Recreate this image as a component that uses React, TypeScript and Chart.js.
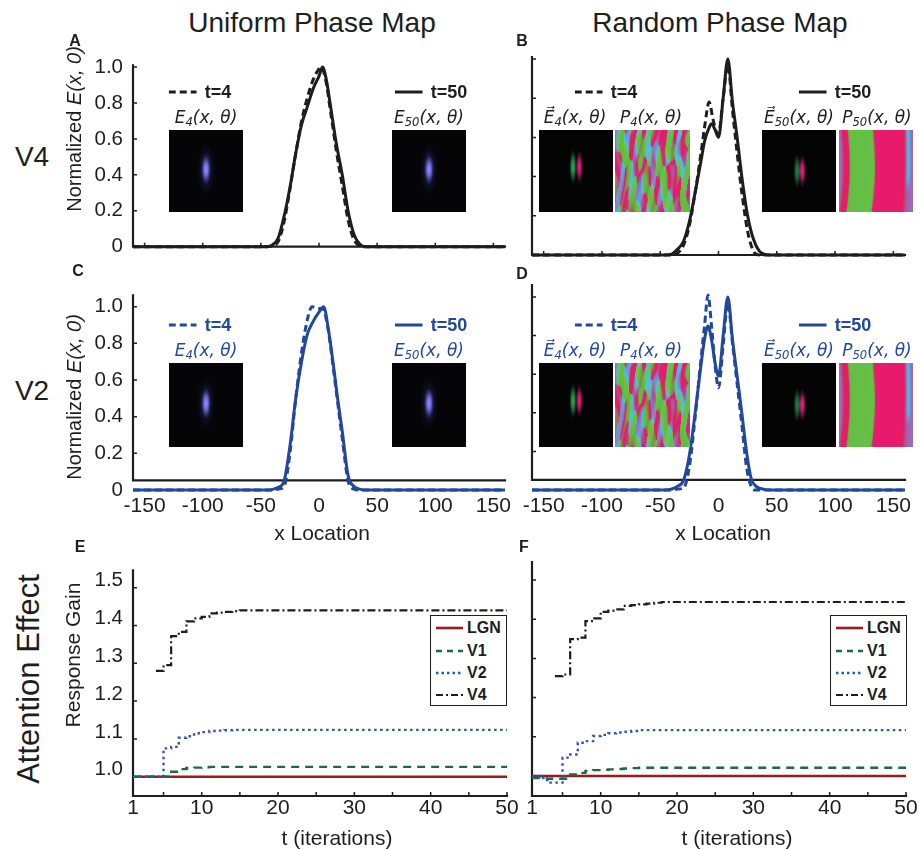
import React, { useEffect, useRef } from 'react';
import { Chart, registerables } from 'chart.js';

const FONT = '"Liberation Sans", Arial, Helvetica, sans-serif';
const SERIF_IT = '"DejaVu Sans", "Noto Sans", sans-serif';
const INK = '#1e1e1e';
const BLUE = '#22489c';
const RED = '#9a1b22';
const GREEN = '#1d6b38';
const DOTBLUE = '#2e55b0';

// ---------- Profile data (x location vs normalized E(x,0)) ----------
const A_t4_x = [-160, -45, -40, -35, -30, -25, -20, -15, -10, -5, 0, 2, 6, 10, 15, 20, 25, 30, 35, 40, 160];
const A_t4_y = [0, 0, 0.005, 0.03, 0.14, 0.32, 0.52, 0.7, 0.83, 0.93, 0.99, 1.0, 0.92, 0.75, 0.53, 0.34, 0.15, 0.04, 0.005, 0, 0];
const A_t50_x = [-160, -45, -40, -35, -30, -25, -20, -15, -10, -5, 0, 3, 6, 10, 15, 20, 25, 30, 35, 40, 160];
const A_t50_y = [0, 0, 0.01, 0.05, 0.17, 0.33, 0.52, 0.68, 0.78, 0.88, 0.95, 1.0, 0.94, 0.78, 0.57, 0.4, 0.2, 0.07, 0.015, 0, 0];

const B_t4_x = [-160, -40, -35, -30, -25, -20, -15, -12, -8, -5, -2, 0, 4, 8, 12, 16, 20, 25, 30, 35, 160];
const B_t4_y = [0, 0, 0.01, 0.05, 0.15, 0.32, 0.52, 0.65, 0.78, 0.7, 0.63, 0.62, 0.8, 0.97, 0.74, 0.52, 0.32, 0.12, 0.02, 0, 0];
const B_t50_x = [-160, -45, -40, -35, -30, -25, -20, -15, -12, -8, -6, -3, 0, 4, 8, 12, 16, 20, 25, 30, 35, 40, 45, 160];
const B_t50_y = [0, 0, 0.005, 0.03, 0.07, 0.17, 0.32, 0.48, 0.58, 0.65, 0.67, 0.64, 0.6, 0.8, 1.0, 0.78, 0.6, 0.4, 0.2, 0.08, 0.02, 0.003, 0, 0];

const C_t4_x = [-160, -40, -35, -30, -25, -20, -15, -10, -6, 0, 3, 8, 12, 16, 20, 25, 30, 35, 160];
const C_t4_y = [0, 0, 0.005, 0.02, 0.2, 0.5, 0.75, 0.93, 1.0, 0.99, 0.99, 0.87, 0.68, 0.48, 0.28, 0.05, 0.005, 0, 0];
const C_t50_x = [-160, -45, -40, -35, -30, -25, -20, -15, -10, -5, 0, 4, 8, 12, 16, 20, 25, 30, 35, 40, 160];
const C_t50_y = [0, 0, 0.003, 0.015, 0.05, 0.24, 0.5, 0.7, 0.85, 0.92, 0.97, 1.0, 0.88, 0.7, 0.5, 0.32, 0.08, 0.02, 0.005, 0, 0];

const D_t4_x = [-160, -40, -35, -30, -25, -20, -16, -12, -9, -6, -3, 0, 4, 8, 12, 16, 20, 24, 28, 32, 160];
const D_t4_y = [0, 0, 0.005, 0.01, 0.12, 0.38, 0.62, 0.85, 1.01, 0.85, 0.65, 0.53, 0.75, 0.97, 0.76, 0.55, 0.34, 0.12, 0.02, 0, 0];
const D_t50_x = [-160, -45, -40, -35, -30, -25, -20, -16, -12, -9, -6, -3, 0, 4, 8, 12, 16, 20, 24, 28, 32, 36, 40, 45, 160];
const D_t50_y = [0, 0, 0.005, 0.02, 0.05, 0.18, 0.4, 0.6, 0.78, 0.85, 0.78, 0.66, 0.59, 0.8, 1.0, 0.78, 0.59, 0.4, 0.2, 0.06, 0.02, 0.008, 0.002, 0, 0];

const xLocTicks = [-150, -100, -50, 0, 50, 100, 150];
const profYTicks = [0, 0.2, 0.4, 0.6, 0.8, 1.0];

// ---------- Response gain data (t = 1..50) ----------
const iterations = [
  1, 2, 3, 4, 5, 6, 7, 8, 9, 10, 11, 12, 13, 14, 15, 16, 17, 18, 19, 20,
  21, 22, 23, 24, 25, 26, 27, 28, 29, 30, 31, 32, 33, 34, 35, 36, 37, 38, 39, 40,
  41, 42, 43, 44, 45, 46, 47, 48, 49, 50,
];
const E_LGN = [
  1.0, 1.0, 1.0, 1.0, 1.0, 1.0, 1.0, 1.0, 1.0, 1.0,
  1.0, 1.0, 1.0, 1.0, 1.0, 1.0, 1.0, 1.0, 1.0, 1.0,
  1.0, 1.0, 1.0, 1.0, 1.0, 1.0, 1.0, 1.0, 1.0, 1.0,
  1.0, 1.0, 1.0, 1.0, 1.0, 1.0, 1.0, 1.0, 1.0, 1.0,
  1.0, 1.0, 1.0, 1.0, 1.0, 1.0, 1.0, 1.0, 1.0, 1.0,
];
const E_V1 = [
  1.0, 1.0, 1.0, 1.0, 1.0, 1.013, 1.02, 1.023, 1.024, 1.025,
  1.026, 1.026, 1.026, 1.026, 1.026, 1.026, 1.026, 1.026, 1.026, 1.026,
  1.026, 1.026, 1.026, 1.026, 1.026, 1.026, 1.026, 1.026, 1.026, 1.026,
  1.026, 1.026, 1.026, 1.026, 1.026, 1.026, 1.026, 1.026, 1.026, 1.026,
  1.026, 1.026, 1.026, 1.026, 1.026, 1.026, 1.026, 1.026, 1.026, 1.026,
];
const E_V2 = [
  1.0, 1.0, 1.0, 1.0, 1.075, 1.079, 1.103, 1.107, 1.115, 1.118,
  1.121, 1.122, 1.123, 1.124, 1.124, 1.124, 1.124, 1.124, 1.124, 1.124,
  1.124, 1.124, 1.124, 1.124, 1.124, 1.124, 1.124, 1.124, 1.124, 1.124,
  1.124, 1.124, 1.124, 1.124, 1.124, 1.124, 1.124, 1.124, 1.124, 1.124,
  1.124, 1.124, 1.124, 1.124, 1.124, 1.124, 1.124, 1.124, 1.124, 1.124,
];
const E_V4 = [
  null, null, null, 1.28, 1.295, 1.372, 1.383, 1.411, 1.419, 1.423,
  1.432, 1.434, 1.436, 1.438, 1.44, 1.44, 1.44, 1.44, 1.44, 1.44,
  1.44, 1.44, 1.44, 1.44, 1.44, 1.44, 1.44, 1.44, 1.44, 1.44,
  1.44, 1.44, 1.44, 1.44, 1.44, 1.44, 1.44, 1.44, 1.44, 1.44,
  1.44, 1.44, 1.44, 1.44, 1.44, 1.44, 1.44, 1.44, 1.44, 1.44,
];
const F_LGN = [
  1.0, 1.0, 1.0, 1.0, 1.0, 1.0, 1.0, 1.0, 1.0, 1.0,
  1.0, 1.0, 1.0, 1.0, 1.0, 1.0, 1.0, 1.0, 1.0, 1.0,
  1.0, 1.0, 1.0, 1.0, 1.0, 1.0, 1.0, 1.0, 1.0, 1.0,
  1.0, 1.0, 1.0, 1.0, 1.0, 1.0, 1.0, 1.0, 1.0, 1.0,
  1.0, 1.0, 1.0, 1.0, 1.0, 1.0, 1.0, 1.0, 1.0, 1.0,
];
const F_V1 = [
  0.995, 0.994, 0.993, 0.993, 0.993, 1.004, 1.008, 1.013, 1.015, 1.016,
  1.017, 1.018, 1.019, 1.02, 1.021, 1.021, 1.021, 1.021, 1.021, 1.021,
  1.021, 1.021, 1.021, 1.021, 1.021, 1.021, 1.021, 1.021, 1.021, 1.021,
  1.021, 1.021, 1.021, 1.021, 1.021, 1.021, 1.021, 1.021, 1.021, 1.021,
  1.021, 1.021, 1.021, 1.021, 1.021, 1.021, 1.021, 1.021, 1.021, 1.021,
];
const F_V2 = [
  1.0, 0.995, 0.983, 0.983, 1.047, 1.055, 1.085, 1.089, 1.102, 1.105,
  1.109, 1.111, 1.113, 1.115, 1.117, 1.117, 1.117, 1.117, 1.117, 1.117,
  1.117, 1.117, 1.117, 1.117, 1.117, 1.117, 1.117, 1.117, 1.117, 1.117,
  1.117, 1.117, 1.117, 1.117, 1.117, 1.117, 1.117, 1.117, 1.117, 1.117,
  1.117, 1.117, 1.117, 1.117, 1.117, 1.117, 1.117, 1.117, 1.117, 1.117,
];
const F_V4 = [
  null, null, null, 1.255, 1.259, 1.349, 1.353, 1.395, 1.402, 1.419,
  1.422, 1.425, 1.434, 1.436, 1.438, 1.44, 1.442, 1.444, 1.444, 1.444,
  1.444, 1.444, 1.444, 1.444, 1.444, 1.444, 1.444, 1.444, 1.444, 1.444,
  1.444, 1.444, 1.444, 1.444, 1.444, 1.444, 1.444, 1.444, 1.444, 1.444,
  1.444, 1.444, 1.444, 1.444, 1.444, 1.444, 1.444, 1.444, 1.444, 1.444,
];
const iterTicks = [1, 10, 20, 30, 40, 50];
const iterMarks = [5, 10, 15, 20, 25, 30, 35, 40, 45, 50];
const gainTicks = [1.0, 1.1, 1.2, 1.3, 1.4, 1.5];
const legendNames = ['LGN', 'V1', 'V2', 'V4'];

// ---------- axis plugin (MATLAB-like axis lines with inner ticks) ----------
const axesPlugin = {
  id: 'mAxes',
  beforeDatasetsDraw(chart: any, _a: any, opts: any) {
    if (!opts || opts.xLineAt === undefined) return;
    const ctx = chart.ctx;
    const xs = chart.scales.x;
    const ys = chart.scales.y;
    const py = ys.getPixelForValue(opts.xLineAt);
    const px = xs.getPixelForValue(opts.yLineAt);
    ctx.save();
    ctx.strokeStyle = INK;
    ctx.lineWidth = 2.2;
    ctx.lineCap = 'square';
    ctx.beginPath();
    ctx.moveTo(xs.getPixelForValue(opts.xFrom), py);
    ctx.lineTo(xs.getPixelForValue(opts.xTo), py);
    ctx.moveTo(px, ys.getPixelForValue(opts.yFrom));
    ctx.lineTo(px, ys.getPixelForValue(opts.yTo));
    ctx.stroke();
    ctx.lineWidth = 1.5;
    ctx.lineCap = 'butt';
    ctx.beginPath();
    for (const v of opts.xMarks || []) {
      const x = xs.getPixelForValue(v);
      ctx.moveTo(x, py);
      ctx.lineTo(x, py - 4);
    }
    for (const v of opts.yMarks || []) {
      const y = ys.getPixelForValue(v);
      ctx.moveTo(px, y);
      ctx.lineTo(px + 4, y);
    }
    ctx.stroke();
    ctx.restore();
  },
};

Chart.register(...registerables, axesPlugin);

type Spec = {
  L: number; T: number; R: number; B: number;
  ml: number; mt: number; mr: number; mb: number;
  xMin: number; xMax: number; yMin: number; yMax: number;
  xTicks: number[]; yTicks: number[];
  xLabels: boolean; yLabels: boolean; xPad: number; yLabelOffset: number;
  yFmt: (v: number) => string;
  axes: any;
  datasets: any[];
};

const pts = (xs: number[], ys: (number | null)[]) => xs.map((x, i) => ({ x, y: ys[i] }));

const profFmt = (v: number) => (v === 0 ? '0' : v.toFixed(1));
const gainFmt = (v: number) => v.toFixed(1);

function profileSets(xs4: number[], ys4: number[], xs50: number[], ys50: number[], color: string) {
  const base = { pointRadius: 0, clip: 6, cubicInterpolationMode: 'monotone', borderJoinStyle: 'round' };
  return [
    { ...base, data: pts(xs50, ys50), borderColor: color, borderWidth: 3, borderDash: [], order: 2 },
    { ...base, data: pts(xs4, ys4), borderColor: color, borderWidth: 3, borderDash: [7, 4], order: 1 },
  ];
}

function gainSets(lgn: number[], v1: number[], v2: number[], v4: (number | null)[]) {
  const base = { pointRadius: 0, stepped: true, borderCapStyle: 'butt', clip: 4 };
  return [
    { ...base, data: pts(iterations, lgn), borderColor: RED, borderWidth: 2.6, order: 4 },
    { ...base, data: pts(iterations, v1), borderColor: GREEN, borderWidth: 2.4, borderDash: [8, 6], order: 2 },
    { ...base, data: pts(iterations, v2), borderColor: DOTBLUE, borderWidth: 2.4, borderDash: [2.5, 3.5], order: 1 },
    { ...base, data: pts(iterations, v4), borderColor: INK, borderWidth: 2.2, borderDash: [8, 3, 2, 3], order: 3 },
  ];
}

const profAxesAB = { xLineAt: 0, xFrom: -160, xTo: 160, yLineAt: -160, yFrom: 0, yTo: 1.01, xMarks: xLocTicks, yMarks: [0.2, 0.4, 0.6, 0.8, 1.0] };
const profAxesCD = { xLineAt: 0.052, xFrom: -160, xTo: 160, yLineAt: -160, yFrom: 0.052, yTo: 1.062, xMarks: [], yMarks: [0.2, 0.4, 0.6, 0.8, 1.0] };
const gainAxes = { xLineAt: 0.949, xFrom: 1, xTo: 50, yLineAt: 1, yFrom: 0.949, yTo: 1.546, xMarks: iterMarks, yMarks: gainTicks };

const specs: Spec[] = [
  {
    L: 133, T: 57, R: 505, B: 255, ml: 73, mt: 14, mr: 10, mb: 14,
    xMin: -160, xMax: 160, yMin: 0, yMax: 1.01, xTicks: xLocTicks, yTicks: profYTicks,
    xLabels: false, yLabels: true, xPad: 4, yLabelOffset: 0, yFmt: profFmt, axes: profAxesAB,
    datasets: profileSets(A_t4_x, A_t4_y, A_t50_x, A_t50_y, INK),
  },
  {
    L: 532, T: 57, R: 905, B: 255, ml: 16, mt: 14, mr: 10, mb: 14,
    xMin: -160, xMax: 160, yMin: 0, yMax: 1.01, xTicks: xLocTicks, yTicks: profYTicks,
    xLabels: false, yLabels: false, xPad: 4, yLabelOffset: 0, yFmt: profFmt, axes: profAxesAB,
    datasets: profileSets(B_t4_x, B_t4_y, B_t50_x, B_t50_y, INK),
  },
  {
    L: 133, T: 285, R: 505, B: 490, ml: 73, mt: 12, mr: 22, mb: 32,
    xMin: -160, xMax: 160, yMin: 0, yMax: 1.062, xTicks: xLocTicks, yTicks: profYTicks,
    xLabels: true, yLabels: true, xPad: 4, yLabelOffset: 0, yFmt: profFmt, axes: profAxesCD,
    datasets: profileSets(C_t4_x, C_t4_y, C_t50_x, C_t50_y, BLUE),
  },
  {
    L: 532, T: 285, R: 905, B: 490, ml: 16, mt: 12, mr: 14, mb: 32,
    xMin: -160, xMax: 160, yMin: 0, yMax: 1.062, xTicks: xLocTicks, yTicks: profYTicks,
    xLabels: true, yLabels: false, xPad: 4, yLabelOffset: 0, yFmt: profFmt, axes: profAxesCD,
    datasets: profileSets(D_t4_x, D_t4_y, D_t50_x, D_t50_y, BLUE),
  },
  {
    L: 133, T: 562, R: 507, B: 796, ml: 73, mt: 14, mr: 20, mb: 30,
    xMin: 1, xMax: 50, yMin: 0.949, yMax: 1.546, xTicks: iterTicks, yTicks: gainTicks,
    xLabels: true, yLabels: true, xPad: 0, yLabelOffset: -7, yFmt: gainFmt, axes: gainAxes,
    datasets: gainSets(E_LGN, E_V1, E_V2, E_V4),
  },
  {
    L: 532, T: 562, R: 906, B: 796, ml: 16, mt: 14, mr: 14, mb: 30,
    xMin: 1, xMax: 50, yMin: 0.949, yMax: 1.546, xTicks: iterTicks, yTicks: gainTicks,
    xLabels: true, yLabels: false, xPad: 0, yLabelOffset: -7, yFmt: gainFmt, axes: gainAxes,
    datasets: gainSets(F_LGN, F_V1, F_V2, F_V4),
  },
];

function buildConfig(s: Spec): any {
  return {
    type: 'line',
    data: { datasets: s.datasets },
    options: {
      animation: false,
      responsive: false,
      devicePixelRatio: 1,
      events: [],
      layout: { padding: { left: 0, top: s.mt, right: s.mr, bottom: 0 } },
      plugins: { legend: { display: false }, tooltip: { enabled: false }, mAxes: s.axes },
      elements: { point: { radius: 0 }, line: { tension: 0 } },
      scales: {
        x: {
          type: 'linear', min: s.xMin, max: s.xMax,
          grid: { display: false, drawTicks: false }, border: { display: false },
          ticks: {
            display: s.xLabels, font: { family: FONT, size: 21 }, color: INK, padding: s.xPad,
            maxRotation: 0, autoSkip: false, callback: (v: number) => String(v),
          },
          afterBuildTicks: (ax: any) => { ax.ticks = s.xTicks.map((v) => ({ value: v })); },
          afterFit: (ax: any) => { ax.height = s.mb; },
        },
        y: {
          type: 'linear', min: s.yMin, max: s.yMax,
          grid: { display: false, drawTicks: false }, border: { display: false },
          ticks: {
            display: s.yLabels, font: { family: FONT, size: 20.5 }, color: INK, padding: 10,
            labelOffset: s.yLabelOffset, autoSkip: false, callback: (v: number) => s.yFmt(v),
          },
          afterBuildTicks: (ax: any) => { ax.ticks = s.yTicks.map((v) => ({ value: v })); },
          afterFit: (ax: any) => { ax.width = s.ml; },
        },
      },
    },
  };
}

function Panel({ s }: { s: Spec }) {
  const ref = useRef<HTMLCanvasElement>(null);
  const w = s.R - s.L + s.ml + s.mr;
  const h = s.B - s.T + s.mt + s.mb;
  useEffect(() => {
    const chart = new Chart(ref.current as HTMLCanvasElement, buildConfig(s));
    return () => chart.destroy();
  }, []);
  return (
    <canvas
      ref={ref}
      width={w}
      height={h}
      style={{ position: 'absolute', left: s.L - s.ml, top: s.T - s.mt, width: w, height: h }}
    />
  );
}

// ---------- inset pictures ----------
const PAL: [number, number[]][] = [
  [0.0, [234, 24, 112]], [0.16, [226, 32, 92]], [0.3, [152, 108, 184]], [0.44, [78, 190, 232]],
  [0.56, [108, 196, 74]], [0.84, [92, 186, 62]], [1.0, [234, 24, 112]],
];
function palette(p: number): number[] {
  p = ((p % 1) + 1) % 1;
  for (let i = 0; i < PAL.length - 1; i++) {
    const [a, ca] = PAL[i];
    const [b, cb] = PAL[i + 1];
    if (p >= a && p <= b) {
      const t = (p - a) / (b - a);
      return [0, 1, 2].map((k) => ca[k] + (cb[k] - ca[k]) * t);
    }
  }
  return PAL[0][1];
}
function smooth(a: number, b: number, x: number) {
  const t = Math.min(1, Math.max(0, (x - a) / (b - a)));
  return t * t * (3 - 2 * t);
}
function interp(us: number[], ps: number[], u: number) {
  if (u <= us[0]) return ps[0];
  for (let i = 0; i < us.length - 1; i++) {
    if (u <= us[i + 1]) return ps[i] + (ps[i + 1] - ps[i]) * (u - us[i]) / (us[i + 1] - us[i]);
  }
  return ps[ps.length - 1];
}

function drawBlob(ctx: CanvasRenderingContext2D, cx: number, cy: number, r: number, sy: number, rgb: string, a: number) {
  ctx.save();
  ctx.translate(cx, cy);
  ctx.scale(1, sy);
  const g = ctx.createRadialGradient(0, 0, 0, 0, 0, r);
  g.addColorStop(0, `rgba(${rgb},${a})`);
  g.addColorStop(0.4, `rgba(${rgb},${a * 0.7})`);
  g.addColorStop(0.75, `rgba(${rgb},${a * 0.2})`);
  g.addColorStop(1, `rgba(${rgb},0)`);
  ctx.fillStyle = g;
  ctx.beginPath();
  ctx.arc(0, 0, r, 0, Math.PI * 2);
  ctx.fill();
  ctx.restore();
}

function drawInset(ctx: CanvasRenderingContext2D, w: number, h: number, kind: string) {
  if (kind === 'uni') {
    ctx.fillStyle = '#050507';
    ctx.fillRect(0, 0, w, h);
    ctx.globalCompositeOperation = 'lighter';
    drawBlob(ctx, w * 0.5, h * 0.48, 9, 2.9, '45,45,140', 0.55);
    drawBlob(ctx, w * 0.5, h * 0.48, 5, 3.1, '140,135,235', 0.85);
    ctx.globalCompositeOperation = 'source-over';
  } else if (kind === 'rand4' || kind === 'rand50') {
    ctx.fillStyle = '#040404';
    ctx.fillRect(0, 0, w, h);
    ctx.globalCompositeOperation = 'lighter';
    const cy = kind === 'rand4' ? h * 0.45 : h * 0.5;
    const gx = kind === 'rand4' ? 0.46 : 0.475;
    drawBlob(ctx, w * gx, cy, 4, 4.5, '50,200,100', kind === 'rand4' ? 0.85 : 0.65);
    drawBlob(ctx, w * 0.545, cy, 4, 4.3, '255,30,140', 0.95);
    ctx.globalCompositeOperation = 'source-over';
  } else if (kind === 'p4') {
    const img = ctx.createImageData(w, h);
    for (let y = 0; y < h; y++) {
      for (let x = 0; x < w; x++) {
        const u = x / w;
        const v = y / h;
        const a = Math.sin(u * 38 + 2.2 * Math.sin(v * 7 + u * 9)) + 0.9 * Math.sin(u * 23 + 1.3 + 1.5 * Math.cos(v * 5 - u * 4)) + 0.4 * Math.sin(v * 15 + u * 50);
        const b = Math.cos(u * 31 + 2.0 * Math.cos(v * 6 + u * 13) + 0.7) + 0.8 * Math.sin(u * 47 + 1.8 * Math.sin(v * 8) + 2.1);
        const c = palette(Math.atan2(a, b) / (2 * Math.PI));
        const i = (y * w + x) * 4;
        img.data[i] = c[0]; img.data[i + 1] = c[1]; img.data[i + 2] = c[2]; img.data[i + 3] = 255;
      }
    }
    ctx.putImageData(img, 0, 0);
  } else if (kind === 'p50') {
    const img = ctx.createImageData(w, h);
    for (let y = 0; y < h; y++) {
      const v = y / h;
      const cyan = 1 - smooth(0.55, 0.78, v);
      const us = [0, 0.05, 0.1, 0.14, 0.43, 0.46, 0.5, 0.84, 0.88, 0.925, 0.965, 1.0];
      const ps = [0.3, 0.14, 0.02, -0.3, -0.32, -0.02, 0.02, 0.06, 0.2, 0.28 + 0.17 * cyan, 0.3, 0.3];
      for (let x = 0; x < w; x++) {
        const u = x / w;
        const bend = 0.035 * Math.sin(Math.PI * v) * (u < 0.5 ? 1 : 0.4) - 0.02 * v;
        const c = palette(interp(us, ps, u - bend));
        const i = (y * w + x) * 4;
        img.data[i] = c[0]; img.data[i + 1] = c[1]; img.data[i + 2] = c[2]; img.data[i + 3] = 255;
      }
    }
    ctx.putImageData(img, 0, 0);
  }
}

function Inset({ x, y, w, h, kind }: { x: number; y: number; w: number; h: number; kind: string }) {
  const ref = useRef<HTMLCanvasElement>(null);
  useEffect(() => {
    const ctx = (ref.current as HTMLCanvasElement).getContext('2d') as CanvasRenderingContext2D;
    drawInset(ctx, w, h, kind);
  }, []);
  return <canvas ref={ref} width={w} height={h} style={{ position: 'absolute', left: x, top: y, width: w, height: h }} />;
}

// ---------- text helpers ----------
function Txt(props: { x: number; y: number; size: number; children: any; bold?: boolean; color?: string; rot?: boolean }) {
  const { x, y, size, children, bold, color, rot } = props;
  return (
    <div
      style={{
        position: 'absolute', left: x, top: y,
        transform: `translate(-50%,-50%)${rot ? ' rotate(-90deg)' : ''}`,
        fontSize: size, fontFamily: FONT, fontWeight: bold ? 700 : 400,
        color: color || INK, whiteSpace: 'nowrap', lineHeight: 1,
      }}
    >
      {children}
    </div>
  );
}

function TimeKey({ x, y, dashed, label, color }: { x: number; y: number; dashed: boolean; label: string; color: string }) {
  return (
    <div
      style={{
        position: 'absolute', left: x, top: y, transform: 'translate(-50%,-50%)',
        display: 'flex', alignItems: 'center', whiteSpace: 'nowrap',
        fontFamily: FONT, fontWeight: 700, fontSize: 18, color, lineHeight: 1,
      }}
    >
      <svg width={28} height={6} style={{ marginRight: 8 }}>
        <line x1={0} y1={3} x2={28} y2={3} stroke={color} strokeWidth={3} strokeDasharray={dashed ? '7,4' : undefined} />
      </svg>
      <span>{label}</span>
    </div>
  );
}

function FieldLabel({ x, y, letter, sub, arrow, color }: { x: number; y: number; letter: string; sub: string; arrow?: boolean; color: string }) {
  return (
    <div
      style={{
        position: 'absolute', left: x, top: y, transform: 'translate(-50%,-50%)',
        fontFamily: SERIF_IT, fontStyle: 'italic', fontSize: 17, color, whiteSpace: 'nowrap', lineHeight: 1,
      }}
    >
      {letter}
      {arrow ? '\u20D7' : ''}
      <sub style={{ fontSize: '0.68em', verticalAlign: '-0.3em', lineHeight: 0 }}>{sub}</sub>
      {'(x, \u03B8)'}
    </div>
  );
}

function GainLegend({ x, y }: { x: number; y: number }) {
  const styles = [
    { c: RED, d: undefined as string | undefined, w: 2.6 },
    { c: GREEN, d: '6,5', w: 2.4 },
    { c: DOTBLUE, d: '2.5,3', w: 2.4 },
    { c: INK, d: '7,3,2,3', w: 2.2 },
  ];
  const rows = [12, 35, 57, 79];
  return (
    <div
      style={{
        position: 'absolute', left: x, top: y, width: 77, height: 91,
        border: `1.5px solid ${INK}`, boxSizing: 'border-box', background: '#fff',
      }}
    >
      {legendNames.map((n, i) => (
        <div key={n} style={{ position: 'absolute', left: 5, top: rows[i] - 10, height: 20, display: 'flex', alignItems: 'center' }}>
          <svg width={27} height={6} style={{ marginRight: 4 }}>
            <line x1={0} y1={3} x2={27} y2={3} stroke={styles[i].c} strokeWidth={styles[i].w} strokeDasharray={styles[i].d} />
          </svg>
          <span style={{ fontFamily: FONT, fontWeight: 700, fontSize: 16, color: INK, lineHeight: 1 }}>{n}</span>
        </div>
      ))}
    </div>
  );
}

export default function App() {
  const topRow = (dy: number, color: string) => {
    const keyY = 92 + dy;
    const labY = 117 + dy;
    const imgY = 130 + dy;
    const imgH = dy ? 84 : 82;
    return (
      <>
        <TimeKey x={200} y={keyY} dashed label="t=4" color={color} />
        <FieldLabel x={206} y={labY} letter="E" sub="4" color={color} />
        <Inset x={169} y={imgY} w={74} h={imgH} kind="uni" />
        <TimeKey x={431} y={keyY} dashed={false} label="t=50" color={color} />
        <FieldLabel x={429} y={labY} letter="E" sub="50" color={color} />
        <Inset x={392} y={imgY} w={74} h={imgH} kind="uni" />

        <TimeKey x={606} y={keyY} dashed label="t=4" color={color} />
        <FieldLabel x={575} y={labY} letter="E" sub="4" arrow color={color} />
        <FieldLabel x={651} y={labY} letter="P" sub="4" color={color} />
        <Inset x={539} y={imgY} w={74} h={imgH} kind="rand4" />
        <Inset x={615} y={imgY} w={75} h={imgH} kind="p4" />
        <TimeKey x={835} y={keyY} dashed={false} label="t=50" color={color} />
        <FieldLabel x={799} y={labY} letter="E" sub="50" arrow color={color} />
        <FieldLabel x={877} y={labY} letter="P" sub="50" color={color} />
        <Inset x={762} y={imgY} w={74} h={imgH} kind="rand50" />
        <Inset x={839} y={imgY} w={74} h={imgH} kind="p50" />
      </>
    );
  };

  return (
    <div style={{ position: 'absolute', left: 0, top: 0, width: 921, height: 850, background: '#fff', overflow: 'hidden' }}>
      {specs.map((s, i) => (
        <Panel key={i} s={s} />
      ))}

      <Txt x={312} y={23} size={28}>Uniform Phase Map</Txt>
      <Txt x={720} y={23} size={28}>Random Phase Map</Txt>

      <Txt x={75} y={41} size={16} bold>A</Txt>
      <Txt x={522} y={41} size={16} bold>B</Txt>
      <Txt x={78} y={271} size={16} bold>C</Txt>
      <Txt x={522} y={274} size={16} bold>D</Txt>
      <Txt x={80} y={547} size={16} bold>E</Txt>
      <Txt x={524} y={547} size={16} bold>F</Txt>

      <Txt x={32} y={157} size={28}>V4</Txt>
      <Txt x={32} y={391} size={28}>V2</Txt>
      <Txt x={28} y={679} size={31} rot>Attention Effect</Txt>

      <Txt x={74} y={129} size={20} rot>
        Normalized <span style={{ fontStyle: 'italic' }}>E(x, 0)</span>
      </Txt>
      <Txt x={74} y={397} size={20} rot>
        Normalized <span style={{ fontStyle: 'italic' }}>E(x, 0)</span>
      </Txt>
      <Txt x={72} y={655} size={21} rot>Response Gain</Txt>

      <Txt x={322} y={532} size={21}>x Location</Txt>
      <Txt x={723} y={532} size={21}>x Location</Txt>
      <Txt x={337} y={837} size={21}>t (iterations)</Txt>
      <Txt x={737} y={837} size={21}>t (iterations)</Txt>

      {topRow(0, INK)}
      {topRow(233, BLUE)}

      <GainLegend x={430} y={615} />
      <GainLegend x={830} y={615} />
    </div>
  );
}
